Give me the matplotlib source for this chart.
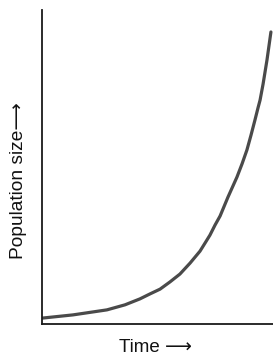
import matplotlib
matplotlib.use("Agg")
import matplotlib.pyplot as plt

# values (arbitrary units: time 0-10, population 0-100)
time = [0.04, 1.34, 2.81, 3.59, 4.24, 4.68, 5.11, 5.54, 5.97, 6.41, 6.84,
        7.06, 7.27, 7.49, 7.71, 8.05, 8.44, 8.66, 8.87, 9.05, 9.22, 9.35,
        9.44, 9.57, 9.74, 9.91]
population = [1.9, 2.9, 4.5, 6.1, 8.0, 9.6, 11.1, 13.4, 15.9, 19.4, 23.2,
              25.8, 28.3, 31.5, 34.4, 40.4, 46.8, 51.0, 55.4, 60.2, 65.0, 68.8,
              71.3, 76.4, 84.1, 93.0]

x_label = "Time \u27f6"
y_label = "Population size\u27f6"

fig = plt.figure(figsize=(2.73, 3.56), dpi=100)
fig.patch.set_facecolor("white")
ax = fig.add_axes([42 / 273, 32 / 356, 231 / 273, 314 / 356])
ax.plot(time, population, color="#4a4a4a", lw=2.3, solid_capstyle="round",
        solid_joinstyle="round")
ax.set_xlim(0, 10)
ax.set_ylim(0, 100)
for s in ["top", "right"]:
    ax.spines[s].set_visible(False)
for s in ["left", "bottom"]:
    ax.spines[s].set_linewidth(1.3)
    ax.spines[s].set_color("#1a1a1a")
ax.set_xticks([])
ax.set_yticks([])

fam = ["Liberation Sans", "DejaVu Sans"]
fig.text(155 / 273, 1 - 347 / 356, x_label, ha="center", va="center",
         fontsize=13.5, family=fam, color="#111111")
fig.text(19 / 273, 1 - 181 / 356, y_label, ha="center", va="center",
         rotation=90, fontsize=13.8, family=fam, color="#111111")

fig.savefig("out.png", dpi=100, facecolor="white")
